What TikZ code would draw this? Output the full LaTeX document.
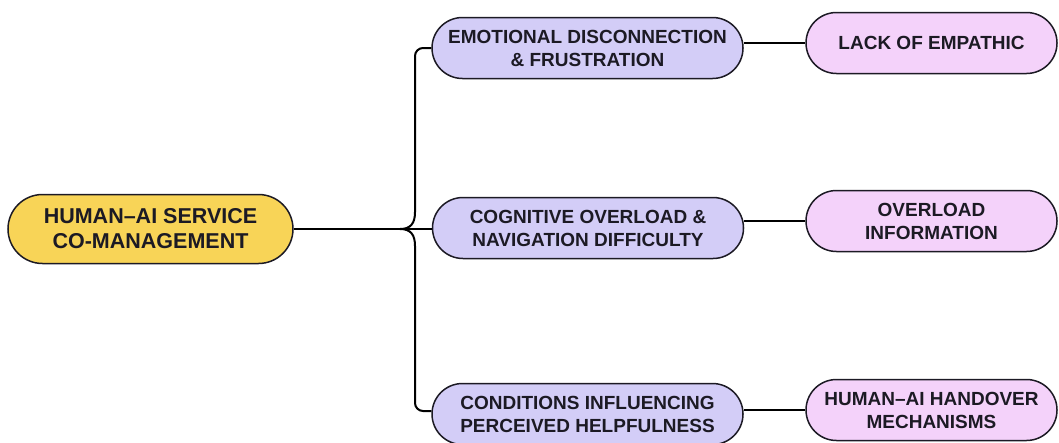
\documentclass[tikz,border=0pt]{standalone}
\usepackage{fontspec}
\setmainfont{Liberation Sans}
\usetikzlibrary{shapes.misc}
\definecolor{rootfill}{HTML}{F8D457}
\definecolor{midfill}{HTML}{D3CDF7}
\definecolor{leaffill}{HTML}{F4D2FA}
\definecolor{ink}{HTML}{1C1A24}
\tikzset{
  box/.style={rounded rectangle, draw=ink, line width=1.5pt, inner sep=0pt, align=center, text=ink},
  rootbox/.style={box, fill=rootfill, minimum width=285pt, minimum height=69pt, font=\fontsize{21.5}{25}\selectfont\bfseries},
  midbox/.style={box, fill=midfill, minimum width=311pt, minimum height=61pt, font=\fontsize{19}{23}\selectfont\bfseries},
  leafbox/.style={box, fill=leaffill, minimum width=251pt, minimum height=61pt, font=\fontsize{19}{23}\selectfont\bfseries},
  link/.style={draw=black, line width=2pt}
}
\begin{document}
\begin{tikzpicture}[x=1pt,y=-1pt]
\useasboundingbox (0,0) rectangle (1059,442);
\node[rootbox] (root) at (150.5,229) {HUMAN–AI SERVICE\\CO-MANAGEMENT};
\node[midbox] (m1) at (587.5,48) {EMOTIONAL DISCONNECTION\\\& FRUSTRATION};
\node[midbox] (m2) at (588,228) {COGNITIVE OVERLOAD \&\\NAVIGATION DIFFICULTY};
\node[midbox] (m3) at (587.5,414) {CONDITIONS INFLUENCING\\PERCEIVED HELPFULNESS};
\node[leafbox] (l1) at (931.5,43) {LACK OF EMPATHIC};
\node[leafbox] (l2) at (931.5,221) {OVERLOAD\\INFORMATION};
\node[leafbox] (l3) at (931.5,410) {HUMAN–AI HANDOVER\\MECHANISMS};
\coordinate (j) at (400,229);
\coordinate (ju) at (415,212);
\coordinate (jd) at (415,246);
\draw[link] (root.east) -- (j);
\draw[link] (j) .. controls (411,229) and (415,223) .. (ju);
\draw[link] (j) .. controls (411,229) and (415,235) .. (jd);
\draw[link, rounded corners=8pt] (ju) |- (m1.west);
\draw[link, rounded corners=8pt] (jd) |- ([yshift=3pt]m3.west);
\draw[link] (j) -- (m2.west |- j);
\draw[link] (l1.west) -- (l1.west -| m1.east);
\draw[link] (l2.west) -- (l2.west -| m2.east);
\draw[link] (l3.west) -- (l3.west -| m3.east);
\end{tikzpicture}
\end{document}
